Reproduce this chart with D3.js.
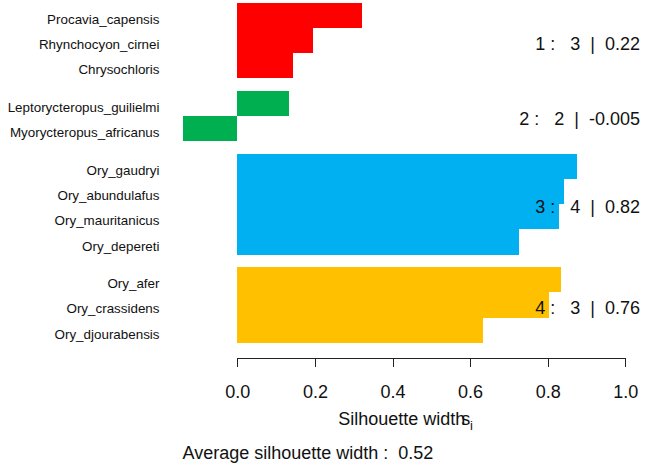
<!DOCTYPE html>
<html>
<head>
<meta charset="utf-8">
<title>Silhouette plot</title>
<script src="https://cdn.jsdelivr.net/npm/d3@7"></script>
<style>
  body { margin: 0; background: #fff; }
  svg text { font-family: "Liberation Sans", Arial, sans-serif; fill: #111; }
  .axis path, .axis line { stroke: #222; shape-rendering: crispEdges; }
</style>
</head>
<body>
<script>
// observations, top to bottom
var names = ["Procavia_capensis", "Rhynchocyon_cirnei", "Chrysochloris",
             "Leptorycteropus_guilielmi", "Myorycteropus_africanus",
             "Ory_gaudryi", "Ory_abundulafus", "Ory_mauritanicus", "Ory_depereti",
             "Ory_afer", "Ory_crassidens", "Ory_djourabensis"];
var clusters = [1, 1, 1, 2, 2, 3, 3, 3, 3, 4, 4, 4];
var widths = [0.321, 0.195, 0.144, 0.133, -0.140,
              0.875, 0.843, 0.829, 0.726, 0.834, 0.803, 0.632];

// per cluster summary
var clusterIds = [1, 2, 3, 4];
var clusterSizes = [3, 2, 4, 3];
var clusterAvg = ["0.22", "-0.005", "0.82", "0.76"];
var colors = ["#ff0000", "#00b050", "#00b0f0", "#ffc000"];
var avgWidth = "0.52";
var xTicks = [0, 0.2, 0.4, 0.6, 0.8, 1.0];

var W = 645, H = 469;
var svg = d3.select("body").append("svg")
    .attr("width", W).attr("height", H);

var x = d3.scaleLinear().domain([0, 1]).range([237.3, 625.3]);

// bar slots: one unit per bar, half a unit between clusters
var gap = 0.5, pos = [], u = 0;
clusters.forEach(function(c, i) {
  if (i > 0 && c !== clusters[i - 1]) u += gap;
  pos.push(u);
  u += 1;
});
var y = d3.scaleLinear().domain([0, u]).range([3, 342.7]);
var color = d3.scaleOrdinal().domain(clusterIds).range(colors);

svg.selectAll("rect.bar")
  .data(widths)
  .enter().append("rect")
  .attr("class", "bar")
  .attr("x", function(d) { return x(Math.min(0, d)); })
  .attr("y", function(d, i) { return y(pos[i]); })
  .attr("width", function(d) { return Math.abs(x(d) - x(0)); })
  .attr("height", y(1) - y(0))
  .attr("fill", function(d, i) { return color(clusters[i]); })
  .attr("shape-rendering", "crispEdges");

// names on the left
svg.selectAll("text.name")
  .data(names)
  .enter().append("text")
  .attr("class", "name")
  .attr("x", 159.5)
  .attr("y", function(d, i) { return y(pos[i] + 0.5) + 8.5; })
  .attr("text-anchor", "end")
  .style("font-size", "13.4px")
  .text(function(d) { return d; });

// cluster summary on the right
svg.selectAll("text.clus")
  .data(clusterIds)
  .enter().append("text")
  .attr("class", "clus")
  .attr("x", 640)
  .attr("y", function(k, j) {
    var idx = clusters.map(function(c, i) { return c === k ? i : -1; })
                      .filter(function(i) { return i >= 0; });
    var mid = (pos[idx[0]] + pos[idx[idx.length - 1]] + 1) / 2;
    return y(mid) + 9;
  })
  .attr("text-anchor", "end")
  .attr("xml:space", "preserve")
  .style("white-space", "pre")
  .style("font-size", "18px")
  .text(function(k, j) { return k + " :   " + clusterSizes[j] + "  |  " + clusterAvg[j]; });

// x axis
var axis = d3.axisBottom(x)
  .tickValues(xTicks)
  .tickFormat(d3.format(".1f"))
  .tickSize(9)
  .tickSizeOuter(0);

var gx = svg.append("g")
  .attr("class", "axis")
  .attr("transform", "translate(0,357.5)")
  .call(axis);
gx.selectAll("text")
  .attr("y", 40).attr("dy", null)
  .style("font-size", "18px")
  .style("font-family", "'Liberation Sans', Arial, sans-serif")
  .attr("fill", "#111");

// axis title, with the overlapping s_i as R draws it (one text element)
var xt = svg.append("text")
  .attr("x", 338.3).attr("y", 425)
  .style("font-size", "18px");
xt.append("tspan").text("Silhouette width");
xt.append("tspan").attr("x", 461.3).text("s");
xt.append("tspan").attr("x", 470).attr("dy", 4.5)
  .style("font-size", "13px").text("i");

svg.append("text")
  .attr("x", 182.5).attr("y", 459)
  .attr("xml:space", "preserve")
  .style("white-space", "pre")
  .style("font-size", "18px")
  .text("Average silhouette width :  " + avgWidth);
</script>
</body>
</html>
